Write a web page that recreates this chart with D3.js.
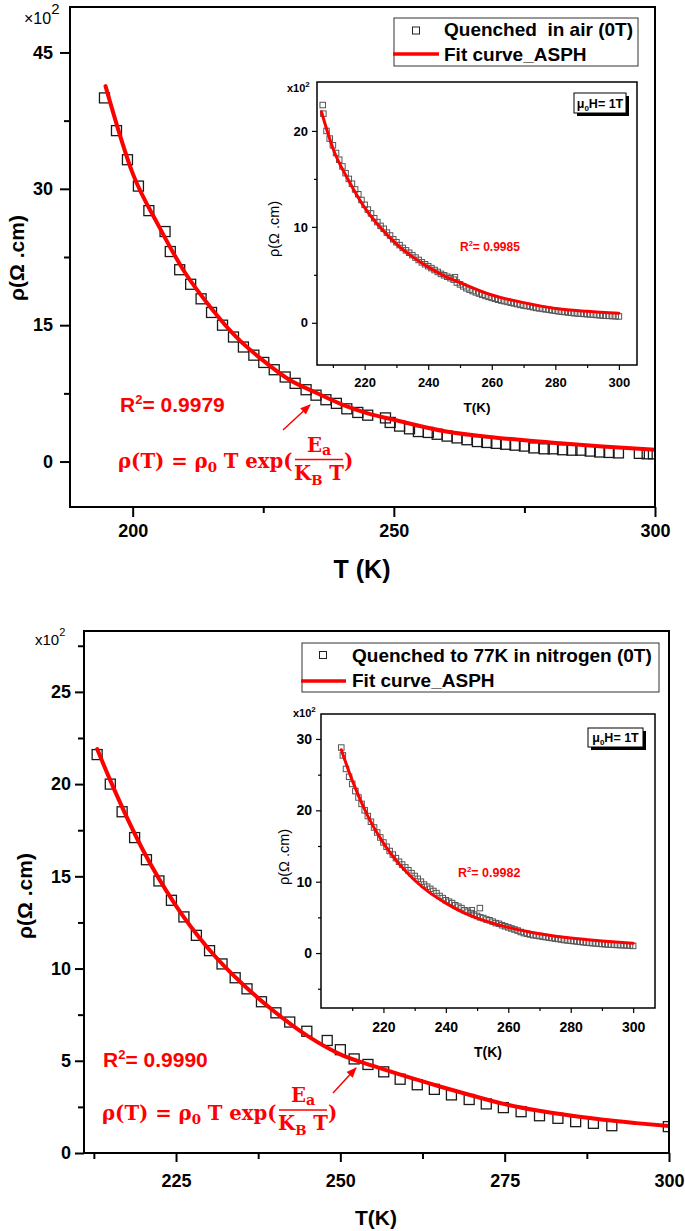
<!DOCTYPE html>
<html><head><meta charset="utf-8">
<script src="https://cdn.jsdelivr.net/npm/d3@7"></script>
<style>body{margin:0;background:#fff}svg{display:block}</style>
</head><body>
<svg id="c" width="685" height="1231"></svg>
<script>
// ---------------- DATA ----------------
// Top panel: quenched in air (0T)
const topMainPoints = [[194.6,40.0],[196.9,36.4],[199.0,33.2],[201.1,30.3],[203.1,27.6],[206.2,25.3],[207.2,23.1],[209.0,21.1],[211.1,19.5],[213.1,17.9],[215.1,16.4],[217.2,15.0],[219.3,13.7],[221.2,12.6],[223.2,11.7],[225.1,10.9],[227.1,10.1],[229.2,9.3],[231.1,8.6],[233.2,7.9],[235.1,7.3],[237.0,6.8],[239.0,6.4],[241.0,5.8],[243.1,5.4],[245.0,5.1],[248.4,4.8],[249.3,4.3],[251.1,3.9],[253.0,3.6],[254.7,3.3],[256.6,3.2],[258.3,3.0],[260.2,2.8],[262.1,2.6],[264.0,2.4],[266.0,2.2],[267.8,2.1],[269.6,2.0],[271.4,1.9],[273.2,1.8],[275.0,1.7],[276.8,1.5],[278.8,1.4],[280.5,1.4],[282.3,1.3],[284.1,1.25],[285.8,1.25],[287.6,1.15],[289.4,1.05],[291.2,1.0],[293.0,0.95],[297.0,0.9],[298.5,0.85],[299.7,0.85]];
const topMainFit = [[194.8,41.3],[200,31.7],[205,25.9],[210,20.8],[215,16.9],[220,13.6],[225,11.1],[230,9.0],[235,7.6],[240,6.3],[245,5.3],[250,4.6],[260,3.3],[270,2.6],[280,2.1],[290,1.65],[300,1.3]];
const topInsetPoints = [[206.8,22.7],[207,21.8],[208,20.0],[209,19.2],[210,18.5],[211,17.7],[212,17.0],[213,16.3],[214,15.6],[215,15.0],[216,14.5],[217,13.9],[218,13.4],[219,12.8],[220,12.3],[221,11.8],[222,11.4],[223,10.9],[224,10.5],[225,10.1],[226,9.8],[227,9.4],[228,9.1],[229,8.7],[230,8.4],[231,8.1],[232,7.8],[233,7.55],[234,7.3],[235,7.05],[236,6.8],[237,6.55],[238,6.3],[239,6.1],[240,5.9],[241,5.7],[242,5.5],[243,5.3],[244,5.1],[245,4.95],[246,4.8],[247,4.65],[248,4.5],[248.4,4.75],[249,4.2],[250,4.0],[251,3.8],[252,3.6],[253,3.45],[254,3.3],[255,3.17],[256,3.05],[257,2.92],[258,2.8],[259,2.7],[260,2.6],[261,2.5],[262,2.4],[263,2.32],[264,2.25],[265,2.17],[266,2.1],[267,2.02],[268,1.95],[269,1.87],[270,1.8],[271,1.75],[272,1.7],[273,1.62],[274,1.55],[275,1.5],[276,1.45],[277,1.4],[278,1.35],[279,1.3],[280,1.25],[281,1.2],[282,1.15],[283,1.12],[284,1.08],[285,1.04],[286,1.0],[287,0.97],[288,0.95],[289,0.92],[290,0.9],[291,0.87],[292,0.85],[293,0.81],[294,0.78],[295,0.75],[296,0.73],[297,0.72],[298,0.7],[299,0.68],[300,0.66]];
const topInsetFit = [[206.4,22.0],[210,18.2],[215,14.8],[220,12.0],[225,9.9],[230,8.2],[235,6.9],[240,5.8],[245,4.9],[250,4.2],[260,2.9],[270,2.1],[280,1.5],[290,1.2],[300,1.0]];

// Bottom panel: quenched to 77K in nitrogen (0T)
const botMainPoints = [[213.0,21.6],[215.0,20.0],[216.8,18.5],[218.7,17.1],[220.5,15.9],[222.4,14.75],[224.3,13.7],[226.2,12.8],[228.1,11.8],[230.1,10.97],[232.0,10.25],[234.0,9.5],[235.8,8.9],[238.0,8.2],[240.2,7.6],[242.3,7.1],[244.9,6.6],[248.0,6.1],[250.0,5.6],[252.1,5.1],[254.2,4.8],[256.6,4.4],[259.1,4.0],[261.7,3.7],[264.3,3.45],[266.9,3.15],[269.6,2.9],[272.2,2.66],[274.8,2.46],[277.5,2.24],[280.3,2.02],[283.1,1.88],[285.8,1.7],[288.5,1.61],[291.3,1.48],[299.9,1.43]];
const botMainFit = [[213,21.9],[215,20.2],[220,16.4],[225,13.4],[230,11.05],[235,9.2],[240,7.66],[245,6.35],[250,5.35],[255,4.72],[260,4.15],[265,3.62],[270,3.12],[275,2.65],[280,2.3],[285,2.03],[290,1.8],[295,1.62],[300,1.46]];
const botInsetPoints = [[206.5,28.8],[207,27.7],[208,25.8],[209,24.7],[210,23.7],[211,22.7],[212,21.8],[213,20.9],[214,20.0],[215,19.2],[216,18.4],[217,17.6],[218,16.9],[219,16.2],[220,15.5],[221,14.9],[222,14.3],[223,13.8],[224,13.3],[225,12.8],[226,12.4],[227,12.0],[228,11.6],[229,11.2],[230,10.8],[231,10.4],[232,10.0],[233,9.6],[234,9.3],[235,9.0],[236,8.7],[237,8.4],[238,8.0],[239,7.7],[240,7.4],[241,7.2],[242,7.0],[243,6.7],[244,6.5],[245,6.3],[246,6.0],[247,5.8],[248,5.6],[248.3,6.0],[249,5.4],[250,5.2],[250.9,6.3],[251,5.0],[252,4.9],[253,4.7],[254,4.6],[255,4.4],[256,4.2],[257,4.1],[258,3.9],[259,3.75],[260,3.6],[261,3.45],[262,3.3],[263,3.15],[264,2.95],[265,2.8],[266,2.7],[267,2.6],[268,2.5],[269,2.45],[270,2.38],[271,2.3],[272,2.23],[273,2.16],[274,2.1],[275,2.03],[276,1.97],[277,1.9],[278,1.82],[279,1.77],[280,1.72],[281,1.67],[282,1.62],[283,1.57],[284,1.52],[285,1.47],[286,1.43],[287,1.39],[288,1.35],[289,1.3],[290,1.27],[291,1.23],[292,1.2],[293,1.18],[294,1.15],[295,1.13],[296,1.11],[297,1.09],[298,1.07],[299,1.05],[300,1.0]];
const botInsetFit = [[206.5,28.5],[210,24.2],[215,19.2],[220,15.4],[225,12.5],[230,10.2],[235,8.4],[240,7.0],[245,5.8],[250,4.9],[260,3.6],[270,2.7],[280,2.1],[290,1.7],[300,1.36]];

// Ticks
const topMainXTicks = [200,250,300], topMainXMinor = [225,275];
const topMainYTicks = [0,15,30,45], topMainYMinor = [7.5,22.5,37.5];
const botMainXTicks = [225,250,275,300], botMainXMinor = [212.5,237.5,262.5,287.5];
const botMainYTicks = [0,5,10,15,20,25], botMainYMinor = [2.5,7.5,12.5,17.5,22.5,27.5];
const insetXTicks = [220,240,260,280,300], insetXMinor = [210,230,250,270,290];
const topInsetYTicks = [0,10,20], topInsetYMinor = [5,15];
const botInsetYTicks = [0,10,20,30], botInsetYMinor = [-5,5,15,25];

// Texts
const legendTop = ["Quenched  in air (0T)", "Fit curve_ASPH"];
const legendBot = ["Quenched to 77K in nitrogen (0T)", "Fit curve_ASPH"];
const r2Main = ["0.9979", "0.9990"];
const r2Inset = ["0.9985", "0.9982"];

// ---------------- DRAW ----------------
const svg = d3.select('#c');
const SANS = "'Liberation Sans', Arial, Helvetica, sans-serif";
const SERIF = "'DejaVu Serif', 'Liberation Serif', serif";
const RED = '#ff0000';
const defs = svg.append('defs');
defs.append('marker').attr('id','arr').attr('viewBox','0 0 10 10').attr('refX',9).attr('refY',5)
  .attr('markerWidth',7).attr('markerHeight',7).attr('orient','auto')
  .append('path').attr('d','M0,1 L10,5 L0,9 z').attr('fill',RED);

function panel(c) {
  const x = d3.scaleLinear().domain(c.xDomain).range([c.left, c.right]);
  const y = d3.scaleLinear().domain(c.yDomain).range([c.bottom, c.top]);
  const g = svg.append('g');
  g.append('rect').attr('x',c.left).attr('y',c.top).attr('width',c.right-c.left).attr('height',c.bottom-c.top).attr('fill','#fff');
  defs.append('clipPath').attr('id','clip'+c.id).append('rect')
    .attr('x',c.left).attr('y',c.top).attr('width',c.right-c.left).attr('height',c.bottom-c.top);
  const inner = g.append('g').attr('clip-path',`url(#clip${c.id})`);
  inner.selectAll('rect.pt').data(c.points).join('rect').attr('class','pt')
    .attr('x',d=>x(d[0])-c.sq/2).attr('y',d=>y(d[1])-c.sq/2).attr('width',c.sq).attr('height',c.sq)
    .attr('fill','none').attr('stroke',c.ptColor).attr('stroke-width',c.ptW);
  inner.append('path').datum(c.fit)
    .attr('d', d3.line().x(d=>x(d[0])).y(d=>y(d[1])).curve(d3.curveMonotoneX))
    .attr('fill','none').attr('stroke',RED).attr('stroke-width',c.fitW).attr('stroke-linecap','round');

  function styleAxis(sel, size) {
    sel.select('.domain').remove();
    sel.attr('font-family',SANS).attr('font-size',size).attr('font-weight','bold');
    sel.selectAll('line').attr('stroke','#000').attr('stroke-width',c.tickW);
    sel.selectAll('text').attr('fill','#000');
  }
  const xa = g.append('g').attr('transform',`translate(0,${c.bottom})`)
    .call(d3.axisBottom(x).tickValues(c.xTicks).tickSize(c.tick).tickPadding(c.xPad).tickSizeOuter(0).tickFormat(d3.format('d')));
  styleAxis(xa, c.tickFont);
  const xm = g.append('g').attr('transform',`translate(0,${c.bottom})`)
    .call(d3.axisBottom(x).tickValues(c.xMinor).tickSize(c.minor).tickFormat('').tickSizeOuter(0));
  styleAxis(xm, c.tickFont);
  const ya = g.append('g').attr('transform',`translate(${c.left},0)`)
    .call(d3.axisLeft(y).tickValues(c.yTicks).tickSize(c.tick).tickPadding(c.yPad).tickSizeOuter(0).tickFormat(d3.format('d')));
  styleAxis(ya, c.tickFont);
  const ym = g.append('g').attr('transform',`translate(${c.left},0)`)
    .call(d3.axisLeft(y).tickValues(c.yMinor).tickSize(c.minor).tickFormat('').tickSizeOuter(0));
  styleAxis(ym, c.tickFont);
  g.append('rect').attr('x',c.left).attr('y',c.top).attr('width',c.right-c.left).attr('height',c.bottom-c.top)
    .attr('fill','none').attr('stroke','#000').attr('stroke-width',c.frameW);
  return {x, y, g};
}

// Formula: rho(T) = rho0 T exp( Ea / KB T )
function formula(x0, base, endX, lineY, eaBase, kbBase) {
  const t = svg.append('text').attr('x',x0).attr('y',base).attr('font-family',SERIF)
    .attr('font-weight','bold').attr('font-size',20).attr('fill',RED).style('white-space','pre');
  t.append('tspan').text('ρ(T) = ρ');
  const s0 = t.append('tspan').text('0').attr('font-size',14).attr('dy',4);
  t.append('tspan').text(' T exp(').attr('dy',-4);
  const w = t.node().getComputedTextLength();
  const fs = 20 * (endX - x0) / w;
  t.attr('font-size', fs); s0.attr('font-size', fs*0.68);
  const fx0 = endX + 2, fx1 = endX + 50, cx = (fx0 + fx1) / 2;
  svg.append('line').attr('x1',fx0).attr('x2',fx1).attr('y1',lineY).attr('y2',lineY).attr('stroke',RED).attr('stroke-width',1.6);
  const ea = svg.append('text').attr('x',cx).attr('y',eaBase).attr('text-anchor','middle').attr('font-family',SERIF)
    .attr('font-weight','bold').attr('font-size',fs).attr('fill',RED);
  ea.append('tspan').text('E'); ea.append('tspan').text('a').attr('font-size',fs*0.72).attr('dy',3);
  const kb = svg.append('text').attr('x',cx).attr('y',kbBase).attr('text-anchor','middle').attr('font-family',SERIF)
    .attr('font-weight','bold').attr('font-size',fs).attr('fill',RED).style('white-space','pre');
  kb.append('tspan').text('K'); kb.append('tspan').text('B').attr('font-size',fs*0.68).attr('dy',5);
  kb.append('tspan').text(' T').attr('dy',-5);
  svg.append('text').attr('x',fx1 + 1).attr('y',base).attr('font-family',SERIF).attr('font-weight','bold')
    .attr('font-size',fs).attr('fill',RED).text(')');
}

function legend(bx, by, bw, bh, sqx, sqy, lx0, lx1, ly, tx, b1, b2, labels) {
  svg.append('rect').attr('x',bx).attr('y',by).attr('width',bw).attr('height',bh).attr('fill','#fff').attr('stroke','#333').attr('stroke-width',1);
  svg.append('rect').attr('x',sqx-3.5).attr('y',sqy-3.5).attr('width',7).attr('height',7).attr('fill','none').attr('stroke','#222').attr('stroke-width',1);
  svg.append('line').attr('x1',lx0).attr('x2',lx1).attr('y1',ly).attr('y2',ly).attr('stroke',RED).attr('stroke-width',3.5);
  [b1,b2].forEach((b,i)=>svg.append('text').attr('x',tx).attr('y',b).attr('font-family',SANS).attr('font-weight','bold')
    .attr('font-size',19).attr('fill','#000').style('white-space','pre').text(labels[i]));
}

function fieldBox(x0, y0, w, h, base) {
  svg.append('rect').attr('x',x0+3).attr('y',y0+3).attr('width',w).attr('height',h).attr('fill','#000');
  svg.append('rect').attr('x',x0).attr('y',y0).attr('width',w).attr('height',h).attr('fill','#fff').attr('stroke','#000').attr('stroke-width',1);
  const t = svg.append('text').attr('x',x0+w/2).attr('y',base).attr('text-anchor','middle').attr('font-family',SANS)
    .attr('font-weight','bold').attr('font-size',12.5).attr('fill','#000');
  t.append('tspan').text('μ'); t.append('tspan').text('0').attr('font-size',8).attr('dy',3);
  t.append('tspan').text('H= 1T').attr('dy',-3);
}

function r2(x0, base, fs, val) {
  const t = svg.append('text').attr('x',x0).attr('y',base).attr('font-family',SANS).attr('font-weight','bold')
    .attr('font-size',fs).attr('fill',RED);
  t.append('tspan').text('R');
  t.append('tspan').text('2').attr('font-size',fs*0.62).attr('dy',-fs*0.4);
  t.append('tspan').text('= ' + val).attr('dy',fs*0.4);
}

function ylab(xb, cy, fs, weight) {
  svg.append('text').attr('transform',`translate(${xb},${cy}) rotate(-90)`).attr('text-anchor','middle')
    .attr('font-family',SANS).attr('font-weight',weight).attr('font-size',fs).attr('fill','#000').text('ρ(Ω .cm)');
}
function xlab(cx, base, fs, txt) {
  svg.append('text').attr('x',cx).attr('y',base).attr('text-anchor','middle').attr('font-family',SANS)
    .attr('font-weight','bold').attr('font-size',fs).attr('fill','#000').style('white-space','pre').text(txt);
}
function mult(x0, base, fs, sym, supFs, supDy, weight) {
  const t = svg.append('text').attr('x',x0).attr('y',base).attr('font-family',SANS).attr('font-weight',weight)
    .attr('font-size',fs).attr('fill','#000');
  t.append('tspan').text(sym + '10');
  t.append('tspan').text('2').attr('font-size',supFs).attr('dy',supDy);
}

// ----- Top main -----
panel({id:'tm', xDomain:[188,300], yDomain:[-5,50], left:70, right:655, top:7, bottom:507,
  points:topMainPoints, fit:topMainFit, sq:10, ptColor:'#1a1a1a', ptW:1.3, fitW:4,
  xTicks:topMainXTicks, xMinor:topMainXMinor, yTicks:topMainYTicks, yMinor:topMainYMinor,
  tick:10, minor:6, xPad:7, yPad:7, tickFont:18, tickW:2, frameW:2});
ylab(24, 258, 21, 'bold');
xlab(362, 578, 25, 'T (K)');
mult(24, 24, 16, '×', 15, -10, 'normal');
legend(394, 18, 244, 48, 416, 30.5, 393, 439, 54, 444, 36, 61, legendTop);
r2(120, 412, 21, r2Main[0]);
formula(118, 468, 293, 459.5, 452, 480);
svg.append('line').attr('x1',283).attr('y1',430).attr('x2',310).attr('y2',405).attr('stroke',RED).attr('stroke-width',1.5).attr('marker-end','url(#arr)');

// ----- Top inset -----
panel({id:'ti', xDomain:[205,305.7], yDomain:[-4.4,25.1], left:317, right:637, top:82, bottom:365,
  points:topInsetPoints, fit:topInsetFit, sq:5.5, ptColor:'#555', ptW:1, fitW:3,
  xTicks:insetXTicks, xMinor:insetXMinor, yTicks:topInsetYTicks, yMinor:topInsetYMinor,
  tick:5, minor:3, xPad:8, yPad:4, tickFont:13, tickW:1.2, frameW:1.5});
ylab(279, 229, 14.5, 'normal');
xlab(477, 412, 13.5, 'T(K)');
mult(287, 92, 11, 'x', 8, -5, 'bold');
fieldBox(574, 93, 52, 20, 108);
r2(460, 251, 12, r2Inset[0]);

// ----- Bottom main -----
panel({id:'bm', xDomain:[211,300], yDomain:[0,28.3], left:84, right:669, top:631, bottom:1153,
  points:botMainPoints, fit:botMainFit, sq:10, ptColor:'#1a1a1a', ptW:1.3, fitW:4,
  xTicks:botMainXTicks, xMinor:botMainXMinor, yTicks:botMainYTicks, yMinor:botMainYMinor,
  tick:9, minor:6, xPad:12, yPad:4, tickFont:18, tickW:2, frameW:2});
ylab(32, 896, 21, 'bold');
xlab(376, 1225, 21, 'T(K)');
mult(35, 645, 15, 'x', 11, -9, 'normal');
legend(302, 643, 357, 49, 323, 655, 301, 346, 681, 352, 662, 687, legendBot);
r2(103, 1067, 21, r2Main[1]);
formula(102, 1120, 277, 1110, 1102, 1130);
svg.append('line').attr('x1',333).attr('y1',1093).attr('x2',356).attr('y2',1068).attr('stroke',RED).attr('stroke-width',1.5).attr('marker-end','url(#arr)');

// ----- Bottom inset -----
panel({id:'bi', xDomain:[200,307], yDomain:[-7.7,33.5], left:321, right:655, top:714, bottom:1008,
  points:botInsetPoints, fit:botInsetFit, sq:5.5, ptColor:'#555', ptW:1, fitW:3,
  xTicks:insetXTicks, xMinor:insetXMinor, yTicks:botInsetYTicks, yMinor:botInsetYMinor,
  tick:5, minor:3, xPad:9, yPad:4, tickFont:14, tickW:1.2, frameW:1.5});
ylab(289, 857, 14.5, 'normal');
xlab(488, 1057, 14, 'T(K)');
mult(293, 717, 11, 'x', 8, -5, 'bold');
fieldBox(588, 728, 55, 19, 742);
r2(458, 877, 12.5, r2Inset[1]);
</script>
</body></html>
